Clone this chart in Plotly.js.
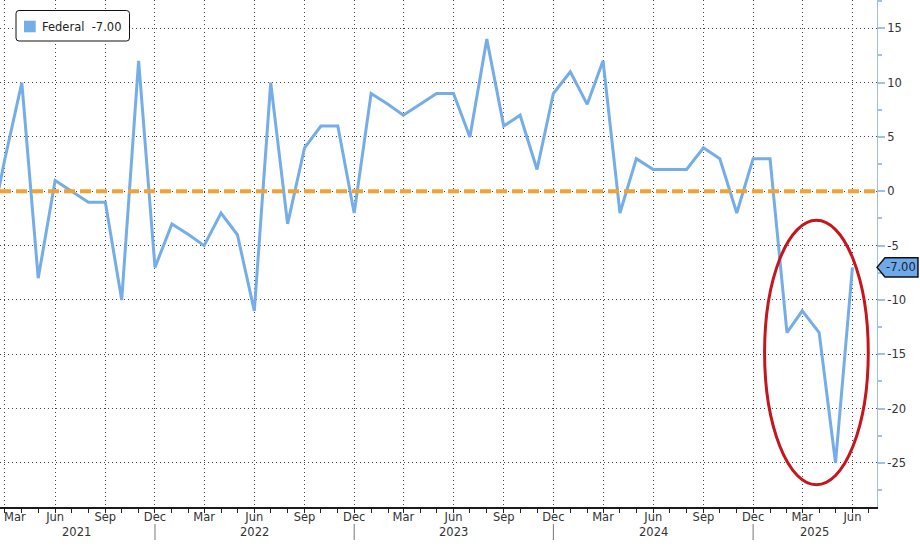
<!DOCTYPE html>
<html>
<head>
<meta charset="utf-8">
<script src="https://cdn.plot.ly/plotly-3.0.1.min.js"></script>
<style>html,body{margin:0;padding:0;background:#fff;}#chart{width:920px;height:546px;}</style>
</head>
<body>
<div id="chart"></div>
<script>
// ---- data ----
const months = [
  '2021-02','2021-03','2021-04','2021-05','2021-06','2021-07','2021-08','2021-09','2021-10','2021-11','2021-12',
  '2022-01','2022-02','2022-03','2022-04','2022-05','2022-06','2022-07','2022-08','2022-09','2022-10','2022-11','2022-12',
  '2023-01','2023-02','2023-03','2023-04','2023-05','2023-06','2023-07','2023-08','2023-09','2023-10','2023-11','2023-12',
  '2024-01','2024-02','2024-03','2024-04','2024-05','2024-06','2024-07','2024-08','2024-09','2024-10','2024-11','2024-12',
  '2025-01','2025-02','2025-03','2025-04','2025-05','2025-06'
];
const federal = [
  -4, 3, 10, -8, 1, 0, -1, -1, -10, 12, -7,
  -3, -4, -5, -2, -4, -11, 10, -3, 4, 6, 6, -2,
  9, 8, 7, 8, 9, 9, 5, 14, 6, 7, 2, 9,
  11, 8, 12, -2, 3, 2, 2, 2, 4, 3, -2, 3,
  3, -13, -11, -13, -25, -7
];
const seriesName = 'Federal';
const xTickMonths = ['2021-03','2021-06','2021-09','2021-12','2022-03','2022-06','2022-09','2022-12',
  '2023-03','2023-06','2023-09','2023-12','2024-03','2024-06','2024-09','2024-12','2025-03','2025-06'];
const xTickLabels = ['Mar','Jun','Sep','Dec','Mar','Jun','Sep','Dec','Mar','Jun','Sep','Dec','Mar','Jun','Sep','Dec','Mar','Jun'];
const years = ['2021','2022','2023','2024','2025'];
const yearLabelDates = ['2021-07-11','2022-06-01','2023-06-01','2024-06-01','2025-03-23'];
const yearBreakDates = ['2021-12-01','2022-12-01','2023-12-01','2024-12-01'];
const yTickVals = [15,10,5,0,-5,-10,-15,-20,-25];
const yTickText = ['15','10','5','0','-5','-10','-15','-20','-25'];

// ---- geometry helpers (plot area: 877 x 507 px) ----
const PW = 877, PH = 507;
const px = v => v / PW;
const py = v => (PH - v) / PH;
function roundRect(x0, y0, x1, y1, r) {
  const p = [
    'M', px(x0 + r), py(y0),
    'L', px(x1 - r), py(y0),
    'Q', px(x1), py(y0), px(x1), py(y0 + r),
    'L', px(x1), py(y1 - r),
    'Q', px(x1), py(y1), px(x1 - r), py(y1),
    'L', px(x0 + r), py(y1),
    'Q', px(x0), py(y1), px(x0), py(y1 - r),
    'L', px(x0), py(y0 + r),
    'Q', px(x0), py(y0), px(x0 + r), py(y0), 'Z'
  ];
  return p.join(' ');
}

const lineColor = '#74ADE8';
const FONT = 'DejaVu Sans, Verdana, sans-serif';
const FS = 11.5;
const lastVal = federal[federal.length - 1];
const lastTxt = lastVal.toFixed(2);

const trace = {
  x: months.map(m => m + '-01'),
  y: federal,
  type: 'scatter',
  mode: 'lines',
  name: seriesName,
  line: {color: lineColor, width: 3},
  hoverinfo: 'skip',
  showlegend: false
};

const shapes = [
  // zero reference line
  {type: 'line', xref: 'paper', yref: 'y', x0: 0, x1: 1, y0: 0, y1: 0,
   line: {color: '#F0A236', width: 4, dash: '11px,5px'}, layer: 'above'},
  // highlight ellipse
  {type: 'circle', xref: 'x', yref: 'y', x0: '2024-12-22', x1: '2025-06-30', y0: -27.0, y1: -2.67,
   line: {color: '#C4161C', width: 3}, layer: 'above'},
  // legend box
  {type: 'path', xref: 'paper', yref: 'paper', path: roundRect(16, 10.5, 129.5, 41, 3),
   fillcolor: '#ffffff', line: {color: '#111', width: 1}, layer: 'above'},
  {type: 'rect', xref: 'paper', yref: 'paper', x0: px(24), x1: px(35.7), y0: py(32.3), y1: py(20.7),
   fillcolor: lineColor, line: {width: 0}, layer: 'above'},
  // last value tag
  {type: 'path', xref: 'paper', yref: 'y',
   path: `M 1.0 ${lastVal} L 1.0091 ${lastVal + 0.88} L 1.0467 ${lastVal + 0.88} L 1.0467 ${lastVal - 0.88} L 1.0091 ${lastVal - 0.88} Z`,
   fillcolor: '#6FA9E9', line: {color: '#111', width: 1.5}, layer: 'above'}
];
yearBreakDates.forEach(d => shapes.push({
  type: 'line', xref: 'x', yref: 'paper', x0: d, x1: d, y0: py(524), y1: py(540),
  line: {color: '#777', width: 1}
}));

const annotations = [
  {xref: 'paper', yref: 'paper', x: px(40), y: py(26.5), xanchor: 'left', yanchor: 'middle',
   text: seriesName + '  ' + lastTxt, showarrow: false, font: {family: FONT, size: FS, color: '#222'}},
  {xref: 'paper', yref: 'y', x: 1.0279, y: lastVal, xanchor: 'center', yanchor: 'middle',
   text: lastTxt, showarrow: false, font: {family: FONT, size: FS, color: '#13233a'}},
  // first month label, kept inside the left edge like the reference
  {xref: 'x', yref: 'paper', x: xTickMonths[0] + '-01', xshift: -3, y: py(517), xanchor: 'left', yanchor: 'middle',
   text: xTickLabels[0], showarrow: false, font: {family: FONT, size: FS, color: '#333'}}
];
years.forEach((yr, i) => annotations.push({
  xref: 'x', yref: 'paper', x: yearLabelDates[i], y: py(532), xanchor: 'center', yanchor: 'middle',
  text: yr, showarrow: false, font: {family: FONT, size: FS, color: '#333'}
}));

const layout = {
  width: 920, height: 546,
  margin: {l: 0, r: 43, t: 0, b: 39, pad: 0},
  paper_bgcolor: '#fff', plot_bgcolor: '#fff',
  font: {family: FONT, size: FS, color: '#333'},
  showlegend: false,
  xaxis: {
    type: 'date',
    range: ['2021-02-20', '2025-07-16'],
    tickmode: 'array',
    tickvals: xTickMonths.map(m => m + '-01'),
    ticktext: xTickLabels.map((t, i) => i === 0 ? '' : t),
    ticks: 'outside', ticklen: 4, tickcolor: '#222', tickwidth: 1,
    ticklabelstandoff: -5,
    showline: true, linecolor: '#1a1a1a', linewidth: 1.5,
    showgrid: true, gridcolor: '#444', gridwidth: 1, griddash: '1px,3px',
    zeroline: false,
    tickfont: {family: FONT, size: FS, color: '#333'},
    minor: {tickmode: 'linear', tick0: '2021-03-01', dtick: 'M1', ticks: 'outside', ticklen: 4,
            tickcolor: '#222', showgrid: false}
  },
  yaxis: {
    side: 'right',
    range: [-29.05, 17.6],
    tickmode: 'array', tickvals: yTickVals, ticktext: yTickText,
    ticks: 'outside', ticklen: 7, tickwidth: 2, tickcolor: '#9DC1EA',
    showline: true, linecolor: '#9DC1EA', linewidth: 1,
    showgrid: true, gridcolor: '#444', gridwidth: 1, griddash: '1px,3px',
    zeroline: false,
    tickfont: {family: FONT, size: FS, color: '#333'},
    minor: {tickmode: 'linear', tick0: 2.5, dtick: 5, ticks: 'outside', ticklen: 4,
            tickcolor: '#9DC1EA', showgrid: false}
  },
  shapes: shapes,
  annotations: annotations
};

Plotly.newPlot('chart', [trace], layout, {staticPlot: true, displayModeBar: false});
</script>
</body>
</html>
